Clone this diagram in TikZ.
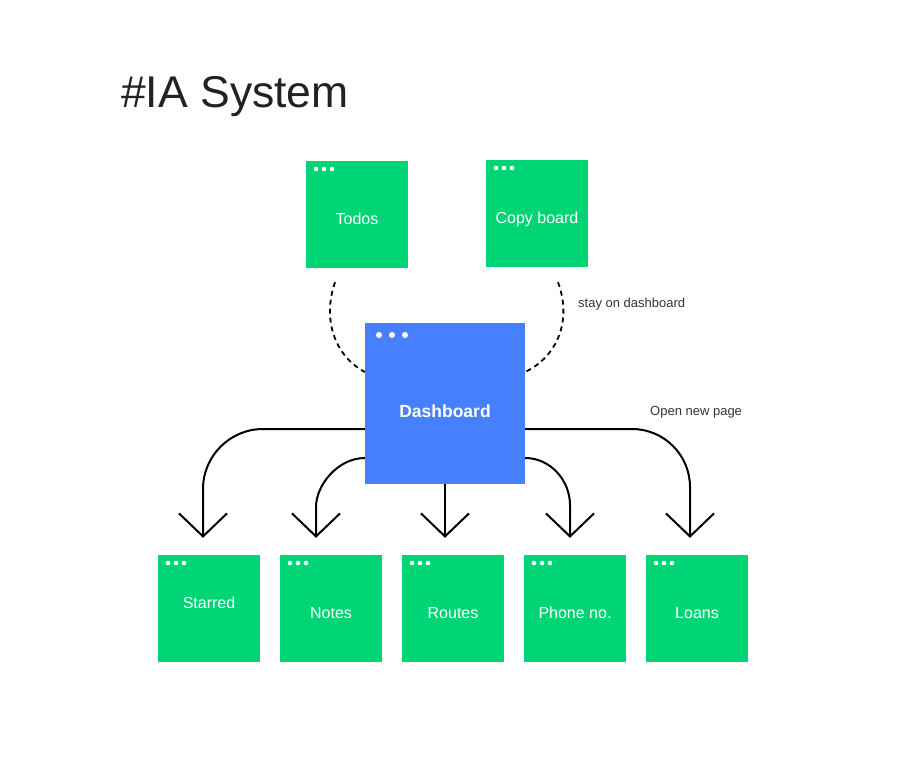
\documentclass[tikz,border=0pt]{standalone}
\usepackage{fontspec}
\setmainfont{Liberation Sans}
\usetikzlibrary{calc,arrows.meta}
\definecolor{boxgreen}{RGB}{0,213,118}
\definecolor{boxblue}{RGB}{70,128,255}
\definecolor{labelgray}{RGB}{51,51,51}
\definecolor{titlegray}{RGB}{34,34,34}
\begin{document}
\begin{tikzpicture}[x=1pt,y=-1pt,
  gbox/.style={rectangle, fill=boxgreen, minimum width=102pt, minimum height=107pt,
    inner sep=0pt, text=white, font=\fontsize{16}{19}\selectfont,
    path picture={
      \fill[white] ($(path picture bounding box.north west)+(10,8)$) circle (2.3pt);
      \fill[white] ($(path picture bounding box.north west)+(18,8)$) circle (2.3pt);
      \fill[white] ($(path picture bounding box.north west)+(26,8)$) circle (2.3pt);
    }},
  bbox/.style={rectangle, fill=boxblue, minimum width=160pt, minimum height=161pt,
    inner sep=0pt, text=white, font=\fontsize{17.5}{21}\selectfont\bfseries,
    path picture={
      \fill[white] ($(path picture bounding box.north west)+(14,12)$) circle (3pt);
      \fill[white] ($(path picture bounding box.north west)+(27,12)$) circle (3pt);
      \fill[white] ($(path picture bounding box.north west)+(40,12)$) circle (3pt);
    }},
  txtoff/.style={text height=#1, text depth=0pt},
  conn/.style={draw=black, line width=2pt, -{Straight Barb[length=23pt,width=48pt]}},
  dconn/.style={draw=black, line width=1.8pt, dash pattern=on 5pt off 4pt},
  note/.style={text=labelgray, font=\fontsize{13}{15}\selectfont, inner sep=0pt, anchor=west}
]
\useasboundingbox (0,0) rectangle (905,762);
\fill[white] (0,0) rectangle (905,762);

\node[anchor=base west, inner sep=0pt, text=titlegray, font=\fontsize{44.5}{50}\selectfont] (title) at (121,108) {\#IA System};

\node[gbox, txtoff=19.5pt] (todos) at (357,214.5) {Todos};
\node[gbox, txtoff=20.5pt] (copy) at (537,213.5) {Copy board};
\node[bbox, txtoff=27pt] (dash) at (445,403.5) {Dashboard};

\node[gbox, txtoff=0.5pt] (starred) at (209,608.5) {Starred};
\node[gbox, txtoff=20.5pt] (notes) at (331,608.5) {Notes};
\node[gbox, txtoff=20.5pt] (routes) at (453,608.5) {Routes};
\node[gbox, txtoff=20.5pt] (phone) at (575,608.5) {Phone no.};
\node[gbox, txtoff=20.5pt] (loans) at (697,608.5) {Loans};

\node[note] (stay) at (578,304) {stay on dashboard};
\node[note] (open) at (650,412) {Open new page};

% dashed connectors
\draw[dconn] ($(todos.south)+(-22,14)$) .. controls (322,320) and (335,356) .. (dash.west |- 0,372);
\draw[dconn] ($(copy.south)+(21,15)$) .. controls (572,320) and (558,356) .. (dash.east |- 0,372);

% arrows
\draw[conn] (dash.west |- 0,429) -- (263,429) .. controls (230,429) and (203,456) .. (203,489) -- ($(starred.north)+(-6,-17)$);
\draw[conn] (dash.west |- 0,458) .. controls (338,458) and (316,485) .. (316,507) -- ($(notes.north)+(-15,-17)$);
\draw[conn] (dash.south) -- ($(routes.north)+(-8,-17)$);
\draw[conn] (dash.east |- 0,458) .. controls (550,458) and (570,480) .. (570,505) -- ($(phone.north)+(-5,-17)$);
\draw[conn] (dash.east |- 0,429) -- (632,429) .. controls (664,429) and (690,455) .. (690,487) -- ($(loans.north)+(-7,-17)$);
\end{tikzpicture}
\end{document}
